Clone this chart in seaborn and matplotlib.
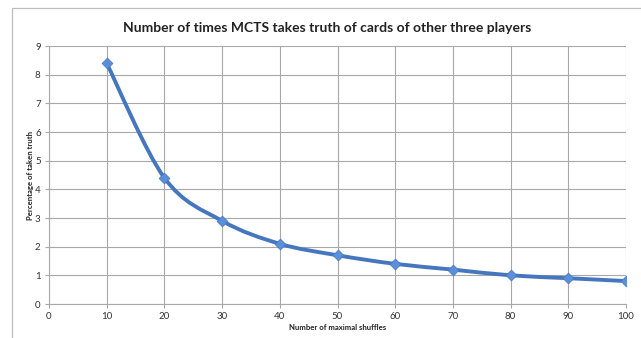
import numpy as np
import pandas as pd
import matplotlib
matplotlib.use("Agg")
import matplotlib.pyplot as plt
from matplotlib.path import Path
from matplotlib.patches import PathPatch, Rectangle
import seaborn as sns

# Data
shuffles = [10, 20, 30, 40, 50, 60, 70, 80, 90, 100]
taken_truth = [8.4, 4.4, 2.9, 2.1, 1.7, 1.4, 1.2, 1.0, 0.9, 0.8]
x_ticks = list(range(0, 101, 10))
y_ticks = list(range(0, 10))

title = "Number of times MCTS takes truth of cards of other three players"
x_label = "Number of maximal shuffles"
y_label = "Percentage of taken truth"

sns.set_theme(style="white")
plt.rcParams["font.family"] = ["Lato", "DejaVu Sans"]

W, H = 641, 338
fig = plt.figure(figsize=(W / 100, H / 100), dpi=100)
ax = fig.add_axes([49 / W, 1 - 304 / H, (626 - 49) / W, (304 - 46) / H])

df = pd.DataFrame({"shuffles": shuffles, "truth": taken_truth})

# Smoothed connecting line (Catmull-Rom converted to cubic Bezier segments)
pts = np.column_stack([shuffles, taken_truth]).astype(float)
n = len(pts)
verts = [pts[0]]
codes = [Path.MOVETO]
for i in range(n - 1):
    p0 = pts[i - 1] if i > 0 else pts[i]
    p1 = pts[i]
    p2 = pts[i + 1]
    p3 = pts[i + 2] if i + 2 < n else pts[i + 1]
    c1 = p1 + (p2 - p0) / 6.0
    c2 = p2 - (p3 - p1) / 6.0
    verts += [c1, c2, p2]
    codes += [Path.CURVE4] * 3
curve = PathPatch(Path(verts, codes), facecolor="none", edgecolor="#4677BE",
                  lw=2.8, capstyle="round", joinstyle="round", zorder=3)
ax.add_patch(curve)

sns.scatterplot(data=df, x="shuffles", y="truth", ax=ax, marker="D", s=30,
                color="#5B8FDA", edgecolor="#4A7CC4", linewidth=0.6, zorder=4,
                legend=False)

ax.set_xlim(0, 100)
ax.set_ylim(0, 9)
ax.set_xticks(x_ticks)
ax.set_yticks(y_ticks)
ax.grid(True, color="#A8A8A8", lw=0.8)
ax.set_axisbelow(True)
for side in ["top", "right"]:
    ax.spines[side].set_visible(False)
for side in ["left", "bottom"]:
    ax.spines[side].set_color("#A8A8A8")
    ax.spines[side].set_linewidth(0.8)
ax.tick_params(axis="both", which="both", direction="out", length=3, width=0.8,
               color="#A8A8A8", labelsize=7, labelcolor="#333333", pad=3)
ax.tick_params(left=True, bottom=True)

ax.set_xlabel(x_label, fontsize=5.6, fontweight="bold", color="#222222")
ax.set_ylabel(y_label, fontsize=5.6, fontweight="bold", color="#222222")
ax.xaxis.set_label_coords(0.5, (304 - 328) / 258)
ax.yaxis.set_label_coords((31 - 49) / 577, 0.5)
ax.xaxis.label.set_va("center")
ax.yaxis.label.set_va("center")

fig.text(327.5 / W, 1 - 28 / H, title, ha="center", va="center",
         fontsize=10, fontweight="bold", color="#222222")

# Chart-area border
fig.patches.append(Rectangle((12 / W, -0.2), 1.0, 1.2 - 8 / H, transform=fig.transFigure,
                             fill=False, edgecolor="#BDBDBD", lw=0.9))

fig.savefig("out.png", dpi=100)
